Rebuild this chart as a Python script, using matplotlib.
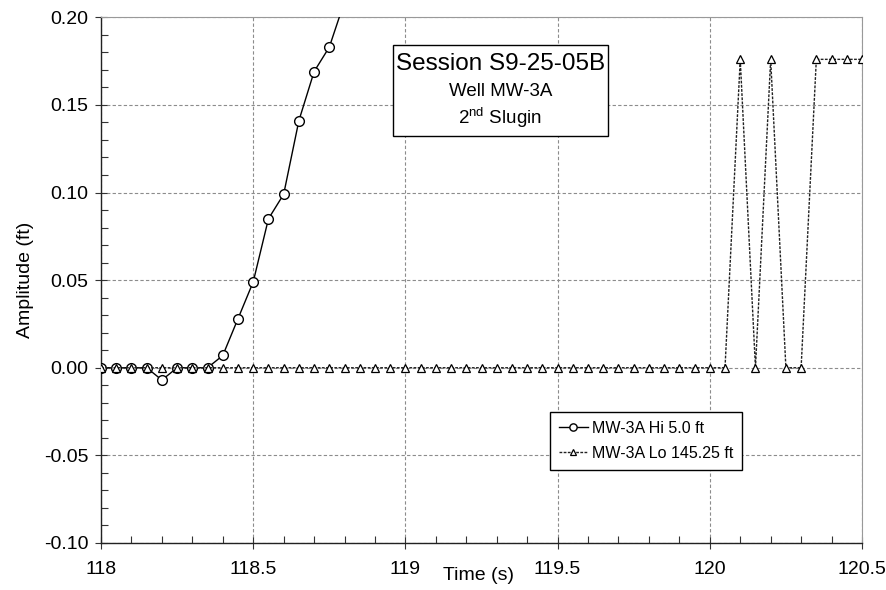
import matplotlib
matplotlib.use('Agg')
import matplotlib.pyplot as plt
from matplotlib.patches import Rectangle
from matplotlib.ticker import MultipleLocator, FormatStrFormatter

plt.rcParams['font.family'] = ['Liberation Sans', 'DejaVu Sans']
plt.rcParams['mathtext.fontset'] = 'custom'
plt.rcParams['mathtext.rm'] = 'Liberation Sans'

# ── data ───────────────────────────────────────────────────────────────────────
hi_time = [118.00, 118.05, 118.10, 118.15, 118.20, 118.25, 118.30, 118.35, 118.40,
           118.45, 118.50, 118.55, 118.60, 118.65, 118.70, 118.75, 118.80]
hi_amp = [0.000, 0.000, 0.000, 0.000, -0.007, 0.000, 0.000, 0.000, 0.007,
          0.028, 0.049, 0.085, 0.099, 0.141, 0.169, 0.183, 0.209]

lo_time = [118.00, 118.05, 118.10, 118.15, 118.20, 118.25, 118.30, 118.35, 118.40, 118.45,
           118.50, 118.55, 118.60, 118.65, 118.70, 118.75, 118.80, 118.85, 118.90, 118.95,
           119.00, 119.05, 119.10, 119.15, 119.20, 119.25, 119.30, 119.35, 119.40, 119.45,
           119.50, 119.55, 119.60, 119.65, 119.70, 119.75, 119.80, 119.85, 119.90, 119.95,
           120.00, 120.05, 120.10, 120.15, 120.20, 120.25, 120.30, 120.35, 120.40, 120.45,
           120.50]
lo_amp = [0.0, 0.0, 0.0, 0.0, 0.0, 0.0, 0.0, 0.0, 0.0, 0.0,
          0.0, 0.0, 0.0, 0.0, 0.0, 0.0, 0.0, 0.0, 0.0, 0.0,
          0.0, 0.0, 0.0, 0.0, 0.0, 0.0, 0.0, 0.0, 0.0, 0.0,
          0.0, 0.0, 0.0, 0.0, 0.0, 0.0, 0.0, 0.0, 0.0, 0.0,
          0.0, 0.0, 0.176, 0.0, 0.176, 0.0, 0.0, 0.176, 0.176, 0.176,
          0.176]

hi_label = 'MW-3A Hi 5.0 ft'
lo_label = 'MW-3A Lo 145.25 ft'
title_lines = ['Session S9-25-05B', 'Well MW-3A', r'2$^{\mathrm{nd}}$ Slugin']

# ── figure ─────────────────────────────────────────────────────────────────────
fig = plt.figure(figsize=(8.87, 5.90), dpi=100)
ax = fig.add_axes([0.1139, 0.0797, 0.8579, 0.8910])

ax.plot(hi_time, hi_amp, color='black', lw=1.0, marker='o', ms=7,
        mfc='white', mec='black', mew=1.0, label=hi_label, zorder=3)
ax.plot(lo_time, lo_amp, color='#222222', lw=1.0, ls=(0, (2, 1)), marker='^', ms=6,
        mfc='white', mec='black', mew=0.9, label=lo_label, zorder=4)

ax.set_xlim(118, 120.5)
ax.set_ylim(-0.10, 0.20)
ax.xaxis.set_major_locator(MultipleLocator(0.5))
ax.xaxis.set_minor_locator(MultipleLocator(0.1))
ax.yaxis.set_major_locator(MultipleLocator(0.05))
ax.yaxis.set_minor_locator(MultipleLocator(0.01))
ax.xaxis.set_major_formatter(plt.FuncFormatter(lambda v, p: f'{v:g}'))
ax.yaxis.set_major_formatter(FormatStrFormatter('%.2f'))

ax.tick_params(which='major', direction='inout', length=8, width=0.8, labelsize=14, color='#333333')
ax.tick_params(which='minor', direction='in', length=5, width=0.8, color='#333333')
ax.tick_params(axis='x', which='major', pad=9)
ax.tick_params(axis='y', which='major', pad=5)

ax.grid(True, which='major', color='#8c8c8c', ls=(0, (3, 2)), lw=0.8)
ax.set_axisbelow(True)
for side in ['left', 'bottom']:
    ax.spines[side].set_color('#222222'); ax.spines[side].set_linewidth(1.0)
for side in ['top', 'right']:
    ax.spines[side].set_color('#999999'); ax.spines[side].set_linewidth(0.8)

ax.set_xlabel('Time (s)', fontsize=14)
ax.xaxis.set_label_coords(0.496, -0.046)
ax.xaxis.label.set_va('top')
ax.set_ylabel('Amplitude (ft)', fontsize=14)
ax.yaxis.set_label_coords(-0.110, 0.5)
ax.yaxis.label.set_va('top')

# session box
ax.add_patch(Rectangle((0.3833, 0.774), 0.2829, 0.174, transform=ax.transAxes,
                       facecolor='white', edgecolor='black', lw=1.0, zorder=5))
ax.text(0.5247, 0.911, title_lines[0], transform=ax.transAxes, ha='center', va='center',
        fontsize=17.5, zorder=6)
ax.text(0.5247, 0.858, title_lines[1], transform=ax.transAxes, ha='center', va='center',
        fontsize=13.5, zorder=6)
ax.text(0.5247, 0.810, title_lines[2], transform=ax.transAxes, ha='center', va='center',
        fontsize=13.5, zorder=6)

leg = ax.legend(loc='upper left', bbox_to_anchor=(0.590, 0.249), borderaxespad=0,
                fontsize=11.5, frameon=True, fancybox=False, framealpha=1,
                edgecolor='black', handlelength=1.8, handletextpad=0.3,
                borderpad=0.55, labelspacing=0.62, markerscale=0.75)
leg.get_frame().set_linewidth(1.0)
leg.set_zorder(6)

fig.savefig('out.png', dpi=100)
